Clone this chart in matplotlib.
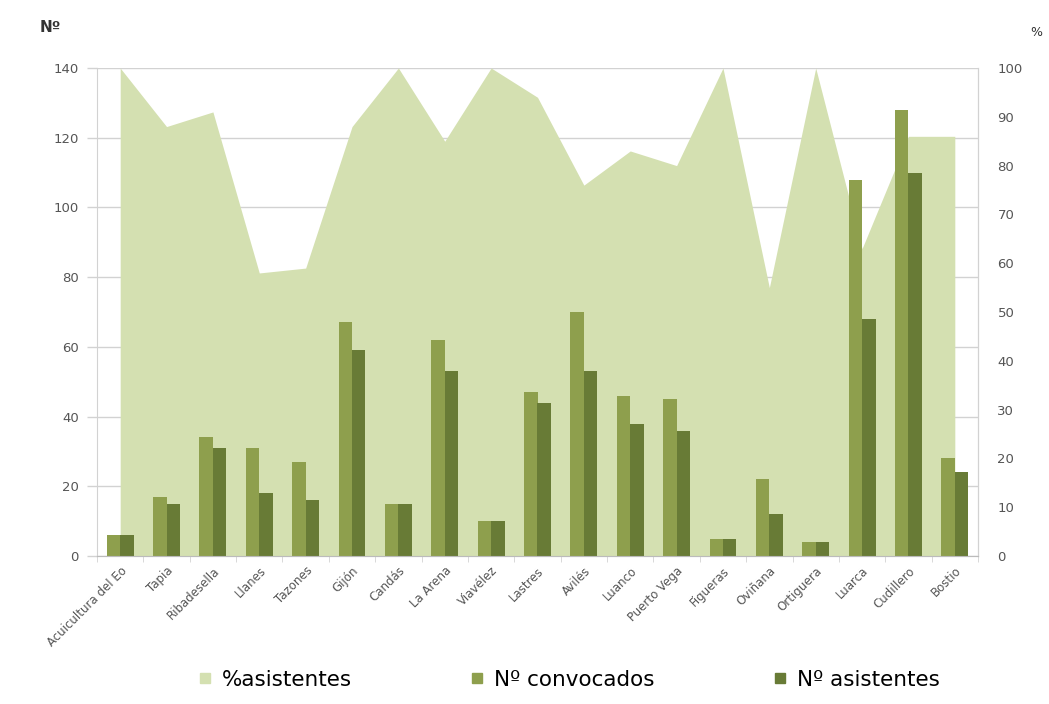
import matplotlib
matplotlib.use("Agg")
import matplotlib.pyplot as plt
import numpy as np
from matplotlib.lines import Line2D

categories = ["Acuicultura del Eo", "Tapia", "Ribadesella", "Llanes", "Tazones", "Gijón",
              "Candás", "La Arena", "Viavélez", "Lastres", "Avilés", "Luanco", "Puerto Vega",
              "Figueras", "Oviñana", "Ortiguera", "Luarca", "Cudillero", "Bostio"]
convocados = [6, 17, 34, 31, 27, 67, 15, 62, 10, 47, 70, 46, 45, 5, 22, 4, 108, 128, 28]
asistentes = [6, 15, 31, 18, 16, 59, 15, 53, 10, 44, 53, 38, 36, 5, 12, 4, 68, 110, 24]
pct_asistentes = [100, 88, 91, 58, 59, 88, 100, 85, 100, 94, 76, 83, 80, 100, 55, 100, 63, 86, 86]
left_ticks = [0, 20, 40, 60, 80, 100, 120, 140]
right_ticks = [0, 10, 20, 30, 40, 50, 60, 70, 80, 90, 100]

c_area = "#d4e0b1"
c_conv = "#8e9f4d"
c_asis = "#687b36"
tick_col = "#555555"
grid_col = "#d2d2d2"

fig = plt.figure(figsize=(10.49, 7.04), dpi=100)
pos = [97 / 1049, 1 - 556 / 704, (978 - 97) / 1049, (556 - 68) / 704]
ax = fig.add_axes(pos)
x = np.arange(len(categories))

ax.set_xlim(-0.5, len(categories) - 0.5)
ax.set_ylim(0, 140)
ax.set_yticks(left_ticks)
ax.set_yticklabels([str(t) for t in left_ticks], fontsize=9.5, color=tick_col)
ax.yaxis.grid(True, color=grid_col, linewidth=1)
ax.set_axisbelow(True)
ax.tick_params(axis="y", length=7, color=grid_col, width=1, pad=6)
for s in ["left", "right", "top", "bottom"]:
    ax.spines[s].set_color(grid_col)
ax.spines["top"].set_visible(False)

# area on right axis
axp = ax.twinx()
axp.set_ylim(0, 100)
axp.fill_between(x, 0, pct_asistentes, color=c_area, linewidth=0)
axp.set_yticks(right_ticks)
axp.set_yticklabels([str(t) for t in right_ticks], fontsize=9.5, color=tick_col)
axp.tick_params(axis="y", length=0, pad=14)
for s in ["left", "right", "top", "bottom"]:
    axp.spines[s].set_visible(False)

# bars
axb = ax.twinx()
axb.set_ylim(0, 140)
w = 0.29
axb.bar(x - w / 2, convocados, width=w, color=c_conv, linewidth=0)
axb.bar(x + w / 2, asistentes, width=w, color=c_asis, linewidth=0)
axb.set_yticks([])
for s in ["left", "top"]:
    axb.spines[s].set_visible(False)
axb.spines["right"].set_color(grid_col)
axb.spines["bottom"].set_color("#bbbbbb")

ax.set_xticks(x)
ax.set_xticklabels(categories, rotation=45, ha="right", rotation_mode="anchor",
                   fontsize=8.5, color=tick_col)
ax.tick_params(axis="x", length=0, pad=6)
ax.set_xticks(np.arange(-0.5, len(categories), 1), minor=True)
ax.tick_params(axis="x", which="minor", length=4, color=grid_col)

fig.text(40 / 1049, 1 - 27 / 704, "Nº", fontsize=11, fontweight="bold", color="#333333",
         ha="left", va="center")
fig.text(1030 / 1049, 1 - 32 / 704, "%", fontsize=9, color="#333333",
         ha="left", va="center")

handles = [
    Line2D([], [], marker="s", linestyle="none", markersize=7, color=c_area),
    Line2D([], [], marker="s", linestyle="none", markersize=7, color=c_conv),
    Line2D([], [], marker="s", linestyle="none", markersize=7, color=c_asis),
]
fig.legend(handles, ["%asistentes", "Nº convocados", "Nº asistentes"], loc="center",
           bbox_to_anchor=(567 / 1049, 1 - 680 / 704), ncol=3, frameon=False, fontsize=15.5,
           handletextpad=0.3, columnspacing=5.3, handlelength=1.0)

fig.savefig("out.png", dpi=100)
